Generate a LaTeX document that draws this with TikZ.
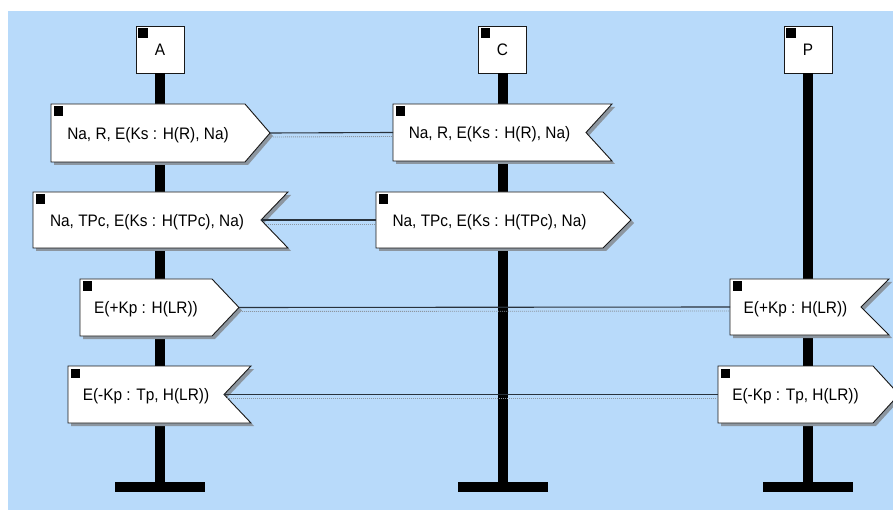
\documentclass[tikz,border=0pt]{standalone}
\usepackage{fontspec}
\setmainfont{Liberation Sans}
\definecolor{bgblue}{RGB}{184,218,250}
\definecolor{shadowgray}{RGB}{140,150,160}
\definecolor{linedark}{RGB}{40,50,60}
\newcommand\msgTo[7]{% name, left, top, bottom, point start, tip, text
  \fill[shad,shift={(3,3)}] (#2,#3) -- (#5,#3) -- (#6,{(#3+#4)/2}) -- (#5,#4) -- (#2,#4) -- cycle;
  \draw[msg] (#2,#3) -- (#5,#3) -- (#6,{(#3+#4)/2}) -- (#5,#4) -- (#2,#4) -- cycle;
  \fill ({#2+2.5},{#3+2.5}) rectangle +(9.5,9.5);
  \node[lbl] (#1) at ({(#2+#5)/2},{(#3+#4)/2+2}) {\scalebox{1}[1.08]{#7}};
  \coordinate (#1-out) at (#6,{(#3+#4)/2});
  \coordinate (#1-in) at (#2,{(#3+#4)/2});
}
\newcommand\msgFrom[7]{% name, left, top, bottom, right, notch, text
  \fill[shad,shift={(3,3)}] (#2,#3) -- (#5,#3) -- (#6,{(#3+#4)/2}) -- (#5,#4) -- (#2,#4) -- cycle;
  \draw[msg] (#2,#3) -- (#5,#3) -- (#6,{(#3+#4)/2}) -- (#5,#4) -- (#2,#4) -- cycle;
  \fill ({#2+2.5},{#3+2.5}) rectangle +(9.5,9.5);
  \node[lbl] (#1) at ({(#2+#6)/2},{(#3+#4)/2+2}) {\scalebox{1}[1.08]{#7}};
  \coordinate (#1-out) at (#6,{(#3+#4)/2});
  \coordinate (#1-in) at (#2,{(#3+#4)/2});
}
\begin{document}
\begin{tikzpicture}[x=1pt,y=-1pt,
  msg/.style={fill=white,draw=black!90,line width=0.9pt},
  shad/.style={fill=shadowgray,draw=none},
  lbl/.style={font=\fontsize{15.4}{18}\selectfont,inner sep=0pt,text=black},
  actor/.style={draw=black!90,fill=white,line width=0.9pt,minimum width=48pt,minimum height=47pt,inner sep=0pt,font=\fontsize{15.4}{18}\selectfont},
  lifeline/.style={draw=black,line width=10pt},
  endbar/.style={fill=black,minimum width=90pt,minimum height=10pt,inner sep=0pt},
  conn/.style={draw=linedark,line width=1.1pt},
  connshad/.style={draw=shadowgray,line width=0.9pt,dash pattern=on 1pt off 1pt}
]
\clip (0,0) rectangle (893,510);
\fill[white] (0,0) rectangle (893,510);
\fill[bgblue] (8,11) rectangle (893,510);

% actors
\node[actor] (A) at (160,49.5) {\raisebox{-2pt}{\scalebox{1}[1.08]{A}}};
\node[actor] (C) at (502.5,49.5) {\raisebox{-2pt}{\scalebox{1}[1.08]{C}}};
\node[actor] (P) at (808,49.5) {\raisebox{-2pt}{\scalebox{1}[1.08]{P}}};
\foreach \n in {A,C,P}{
  \fill ([xshift=2.5pt,yshift=-2.5pt]\n.north west) rectangle +(9.5,9.5);
}
\node[endbar] (Aend) at (160,487) {};
\node[endbar] (Cend) at (502.5,487) {};
\node[endbar] (Pend) at (808,487) {};
\draw[lifeline] (A.south) -- (Aend.center);
\draw[lifeline] (C.south) -- (Cend.center);
\draw[lifeline] (P.south) -- (Pend.center);

% messages
\msgTo{mA1}{51}{104}{162}{245}{270}{Na, R, E(Ks : H(R), Na)}
\msgFrom{mC1}{393}{104}{161}{612}{586}{Na, R, E(Ks : H(R), Na)}
\msgFrom{mA2}{33}{192}{248}{288}{261}{Na, TPc, E(Ks : H(TPc), Na)}
\msgTo{mC2}{376}{192}{248}{603}{631}{Na, TPc, E(Ks : H(TPc), Na)}
\msgTo{mA3}{80}{279}{336}{212}{239}{E(+Kp : H(LR))}
\msgFrom{mP3}{730}{279}{335}{889}{861}{E(+Kp : H(LR))}
\msgFrom{mA4}{68}{366}{423}{251}{224}{E(-Kp : Tp, H(LR))}
\msgTo{mP4}{718}{366}{423}{873}{899}{E(-Kp : Tp, H(LR))}

% connectors
\foreach \a/\b in {mA1-out/mC1-in, mA2-out/mC2-in, mA3-out/mP3-in, mA4-out/mP4-in}{
  \draw[connshad] ([xshift=3pt,yshift=-4pt]\a) -- ([yshift=-4pt]\b);
  \draw[conn] (\a) -- (\b);
}
\end{tikzpicture}
\end{document}
